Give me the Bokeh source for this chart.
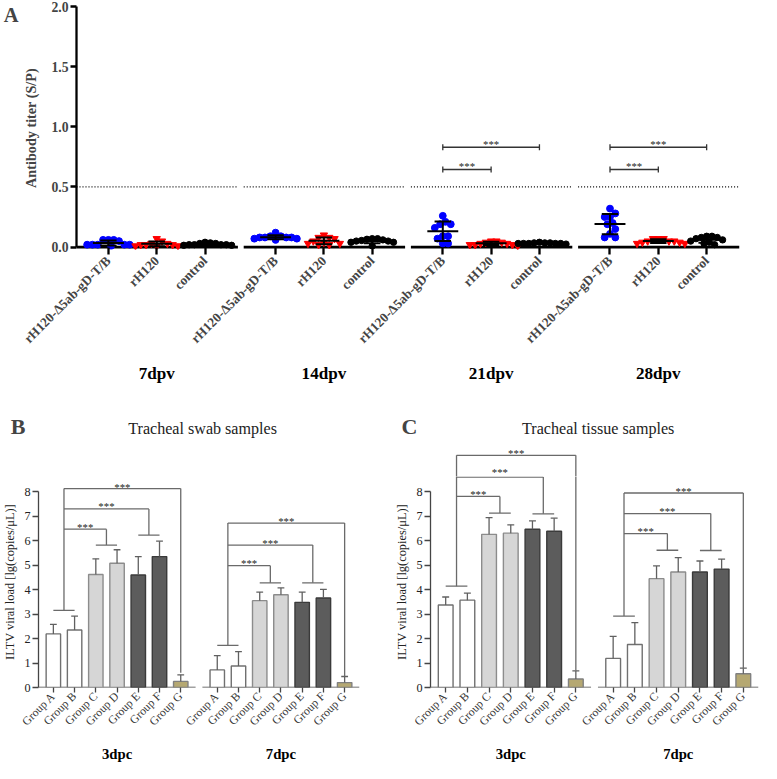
import math
import numpy as np
from bokeh.plotting import figure
from bokeh.models import FixedTicker, LinearAxis, Range1d, PrintfTickFormatter
from bokeh.layouts import column, row
from bokeh.embed import file_html
from bokeh.resources import INLINE
from bokeh.core.properties import value

SERIF = "Liberation Serif"
K = 760 / 777.0


def sc(v):
    return int(round(v * K))


def fs(v):
    return f"{v * K:.1f}px"


# ---------------- Panel A data ----------------
timepoints_A = ["7dpv", "14dpv", "21dpv", "28dpv"]
groups_A = ["rH120-Δ5ab-gD-T/B", "rH120", "control"]
titer_vaccine = [
    [0.06, 0.06, 0.06, 0.05, 0.02, 0.02, 0.02, 0.02, 0.01, 0.02],
    [0.12, 0.09, 0.09, 0.08, 0.08, 0.08, 0.08, 0.07, 0.07, 0.06],
    [0.26, 0.19, 0.19, 0.21, 0.16, 0.09, 0.09, 0.07, 0.03, 0.03],
    [0.32, 0.28, 0.25, 0.25, 0.20, 0.15, 0.11, 0.08, 0.08, 0.19],
]
titer_rh120 = [
    [0.07, 0.05, 0.03, 0.02, 0.02, 0.01, 0.01, 0.01, 0.02, 0.03],
    [0.10, 0.08, 0.08, 0.07, 0.05, 0.04, 0.03, 0.02, 0.02, 0.03],
    [0.05, 0.05, 0.04, 0.04, 0.03, 0.03, 0.02, 0.02, 0.01, 0.02],
    [0.07, 0.07, 0.07, 0.05, 0.05, 0.05, 0.04, 0.04, 0.03, 0.03],
]
titer_control = [
    [0.04, 0.035, 0.03, 0.03, 0.02, 0.02, 0.02, 0.015, 0.015, 0.02],
    [0.07, 0.07, 0.065, 0.06, 0.055, 0.05, 0.05, 0.04, 0.04, 0.01],
    [0.04, 0.035, 0.035, 0.035, 0.03, 0.03, 0.03, 0.03, 0.025, 0.03],
    [0.09, 0.09, 0.08, 0.08, 0.07, 0.06, 0.05, 0.04, 0.03, 0.02],
]
cutoff_A = 0.5
# (timepoint index, compared group index, bracket height)
sig_A = [(2, 1, 0.645), (2, 2, 0.83), (3, 1, 0.645), (3, 2, 0.83)]
colors_A = ["#0000ff", "#ff0000", "#000000"]
markers_A = ["circle", "inverted_triangle", "circle"]
sizes_A = [7, 7.5, 6.5]

# ---------------- Panels B / C data ----------------
groups_BC = ["Group A", "Group B", "Group C", "Group D", "Group E", "Group F", "Group G"]
days_BC = ["3dpc", "7dpc"]
swab_mean = [[2.19, 2.35, 4.62, 5.08, 4.60, 5.35, 0.25],
             [0.72, 0.88, 3.55, 3.79, 3.48, 3.66, 0.20]]
swab_sd = [[0.39, 0.57, 0.64, 0.55, 0.75, 0.63, 0.27],
           [0.58, 0.59, 0.35, 0.28, 0.42, 0.35, 0.25]]
tissue_mean = [[3.37, 3.57, 6.26, 6.31, 6.47, 6.39, 0.35],
               [1.19, 1.76, 4.45, 4.72, 4.72, 4.84, 0.56]]
tissue_sd = [[0.33, 0.29, 0.68, 0.34, 0.34, 0.53, 0.33],
             [0.90, 0.89, 0.52, 0.59, 0.45, 0.41, 0.23]]
# [pair A-B, level 1, pair C-D, level 2, pair E-F, level 3, end at G]
swab_brackets = [[3.15, 6.47, 5.82, 7.30, 6.23, 8.13, 0.60],
                 [1.72, 4.98, 4.28, 5.82, 4.28, 6.72, 0.46]]
tissue_brackets = [[4.14, 7.81, 7.13, 8.60, 7.10, 9.48, 0.70],
                   [2.92, 6.29, 5.61, 7.11, 5.60, 7.95, 0.80]]
bar_fill = ["#ffffff", "#ffffff", "#d6d6d6", "#d6d6d6", "#5c5c5c", "#5c5c5c", "#b5a872"]
bar_line = ["#707070", "#707070", "#8c8c8c", "#8c8c8c", "#3a3a3a", "#3a3a3a", "#808080"]


def swarm_offsets(vals, ypx, ax, ay):
    vals = np.asarray(vals, float)
    order = np.argsort(-vals, kind="stable")
    placed = []
    offs = np.zeros(len(vals))
    step = ax * 0.5
    for k in order:
        y = vals[k] * ypx
        n = 0
        ok = None
        while ok is None:
            cands = [0.0] if n == 0 else [n * step, -n * step]
            for c in cands:
                if all(((c - px) / ax) ** 2 + ((y - py) / ay) ** 2 >= 1.0 for px, py in placed):
                    ok = c
                    break
            n += 1
        offs[k] = ok
        placed.append((ok, y))
    return offs


def base_fig(**kw):
    p = figure(output_backend="svg", toolbar_location=None, **kw)
    p.xgrid.visible = False
    p.ygrid.visible = False
    p.outline_line_color = None
    return p


def bare_fig(width, height, x_range, y_range):
    p = figure(output_backend="svg", toolbar_location=None, width=width, height=height,
               x_range=x_range, y_range=y_range, x_axis_location=None, y_axis_location=None,
               min_border=0, min_border_left=0, min_border_right=0, min_border_top=0,
               min_border_bottom=0)
    p.xgrid.visible = False
    p.ygrid.visible = False
    p.outline_line_color = None
    return p


def label_axis(tick, text, size, standoff):
    return LinearAxis(ticker=FixedTicker(ticks=[tick]), major_label_overrides={tick: text},
                      axis_line_color=None, major_tick_line_color=None, minor_tick_line_color=None,
                      major_tick_out=0, major_tick_in=0, minor_tick_out=0, minor_tick_in=0,
                      major_label_text_font=SERIF, major_label_text_font_style="bold",
                      major_label_text_font_size=fs(size), major_label_standoff=standoff)


# ---------------- sizes (px) ----------------
V_SPLIT = 8.625                      # value at the seam between header and main plot (B, C)
SPLIT_REF = 705.7 - V_SPLIT * 25.45  # its reference pixel row
FOOT_TOP_REF = 751.7                 # top of the day-label strip under panels B and C
W_A = sc(777)
H_TOTAL = sc(779)
H_A_MAIN = sc(364)
H_A_FOOT = sc(394) - H_A_MAIN
H_BC = H_TOTAL - sc(394)
H_BC_HEAD = sc(SPLIT_REF) - sc(394)
H_BC_MAIN = sc(FOOT_TOP_REF) - sc(SPLIT_REF)
H_BC_FOOT = H_BC - H_BC_HEAD - H_BC_MAIN
BC_FRAME_H = sc(705.7) - sc(SPLIT_REF)
PXU = BC_FRAME_H / V_SPLIT

# ================= Panel A =================
GSTEP_A, ISTEP_A, PAD_A = 173, 50, 33
AX0, AX1 = -PAD_A, 3 * GSTEP_A + 2 * ISTEP_A + PAD_A + 1
A_Y0 = -0.02
A_BL, A_BR = sc(71), sc(21)
A_FT = sc(6)
A_FB = sc(254.5)
pA = base_fig(width=W_A, height=H_A_MAIN, x_range=Range1d(AX0, AX1), y_range=Range1d(A_Y0, 2.0),
              min_border=0, min_border_left=A_BL, min_border_right=A_BR,
              min_border_top=A_FT, min_border_bottom=H_A_MAIN - A_FB)

tick_pos, tick_lab = [], {}
for g, tp in enumerate(timepoints_A):
    x0 = g * GSTEP_A
    pA.segment(x0=[x0 - PAD_A], y0=[0], x1=[x0 + 2 * ISTEP_A + PAD_A + 1], y1=[0],
               line_color="black", line_width=2.6)
    pA.segment(x0=[x0 - PAD_A], y0=[cutoff_A], x1=[x0 + 2 * ISTEP_A + PAD_A + 1], y1=[cutoff_A],
               line_color="black", line_width=1.3, line_dash="1 2")
    for i, (series, col, mk, sz) in enumerate(zip([titer_vaccine, titer_rh120, titer_control],
                                                  colors_A, markers_A, sizes_A)):
        xc = x0 + i * ISTEP_A
        tick_pos.append(xc)
        tick_lab[xc] = groups_A[i]
        vals = np.array(series[g])
        offs = swarm_offsets(vals, 123.0, 5.5, 6.5)
        pA.scatter(x=list(xc + offs), y=list(vals), marker=mk, size=sz * K,
                   fill_color=col, line_color=col)
        m = vals.mean()
        sd = vals.std(ddof=1)
        pA.segment(x0=[xc - 16, xc - 8.5, xc - 8.5, xc], y0=[m, m - sd, m + sd, m - sd],
                   x1=[xc + 16, xc + 8.5, xc + 8.5, xc], y1=[m, m - sd, m + sd, m + sd],
                   line_color="black", line_width=2)

for g, gi, h in sig_A:
    xa = g * GSTEP_A
    xb = g * GSTEP_A + gi * ISTEP_A
    pA.segment(x0=[xa, xa, xb], y0=[h, h - 0.025, h - 0.025], x1=[xb, xa, xb], y1=[h, h + 0.025, h + 0.025],
               line_color="#333333", line_width=1.3)
    pA.text(x=[(xa + xb) / 2], y=[h + 0.025], text=["***"], text_align="center",
            text_baseline="alphabetic", text_font=value(SERIF), text_font_size=fs(11),
            text_color="#222222")

yA = pA.yaxis[0]
yA.ticker = FixedTicker(ticks=[0, 0.5, 1.0, 1.5, 2.0])
yA.formatter = PrintfTickFormatter(format="%.1f")
yA.bounds = (0, 2)
yA.axis_line_width = 2.3
yA.major_tick_line_width = 2.3
yA.major_tick_out = sc(6)
yA.major_tick_in = 0
yA.minor_tick_line_color = None
yA.major_label_text_font = SERIF
yA.major_label_text_font_style = "bold"
yA.major_label_text_font_size = fs(14)
yA.major_label_standoff = sc(2)
yA.axis_label = "Antibody titer (S/P)"
yA.axis_label_text_font = SERIF
yA.axis_label_text_font_style = "bold"
yA.axis_label_text_font_size = fs(14.5)
yA.axis_label_standoff = sc(9)

# panel letter "A" carried by a label-only axis at the far left
pA.add_layout(label_axis(1.93, "A", 21, sc(2)), "left")

xA = pA.xaxis[0]
xA.ticker = FixedTicker(ticks=tick_pos)
xA.major_label_overrides = tick_lab
xA.major_label_orientation = math.pi / 4
xA.axis_line_color = None
xA.major_tick_line_width = 2.3
xA.major_tick_in = sc(2.5)
xA.major_tick_out = sc(5)
xA.minor_tick_line_color = None
xA.major_label_text_font = SERIF
xA.major_label_text_font_style = "bold"
xA.major_label_text_font_size = fs(13.6)
xA.major_label_standoff = sc(4)

# footer with the time-point labels (its frame is aligned with panel A's frame)
pAf = bare_fig(W_A, H_A_FOOT, Range1d(AX0, AX1), Range1d(394, 364))
centers_A = [g * GSTEP_A + ISTEP_A for g in range(len(timepoints_A))]
pAf.text(x=centers_A, y=[382] * len(centers_A), text=timepoints_A, text_align="center",
         text_baseline="alphabetic", text_font=value(SERIF), text_font_style="bold",
         text_font_size=fs(17.5), text_color="black")


# ================= Panels B / C =================
GSTEP_BC, ISTEP_BC, PAD_BC = 772, 100, 70
BX0, BX1 = -PAD_BC, GSTEP_BC + 6 * ISTEP_BC + PAD_BC
STAR_PX = 11 * K
STAR_ASC = 0.95 * STAR_PX / PXU
STAR_DESC = 0.36 * STAR_PX / PXU


def draw_brackets(p, brackets, part):
    sx, sy = [], []
    for g in range(len(days_BC)):
        xs = [g * GSTEP_BC + i * ISTEP_BC for i in range(len(groups_BC))]
        pAB, L1, pCD, L2, pEF, L3, gEnd = brackets[g]
        mAB = (xs[0] + xs[1]) / 2
        mCD = (xs[2] + xs[3]) / 2
        mEF = (xs[4] + xs[5]) / 2
        segs = [
            (xs[0], pAB, xs[1], pAB), (xs[2], pCD, xs[3], pCD), (xs[4], pEF, xs[5], pEF),
            (mAB, pAB, mAB, L3),
            (mAB, L1, mCD, L1), (mCD, L1, mCD, pCD),
            (mAB, L2, mEF, L2), (mEF, L2, mEF, pEF),
            (mAB, L3, xs[6], L3), (xs[6], L3, xs[6], gEnd),
        ]
        p.segment(x0=[s[0] for s in segs], y0=[s[1] for s in segs],
                  x1=[s[2] for s in segs], y1=[s[3] for s in segs],
                  line_color="#6a6a6a", line_width=1.3)
        for xm, lv in [((mAB + mCD) / 2, L1), ((mAB + mEF) / 2, L2), ((mAB + xs[6]) / 2, L3)]:
            b = lv + 0.1
            # keep every star label wholly on one side of the header / plot seam
            if b - STAR_DESC < V_SPLIT < b + STAR_ASC:
                if V_SPLIT - b > b - V_SPLIT + 0.15:
                    b = V_SPLIT - STAR_ASC - 0.01
                else:
                    b = V_SPLIT + STAR_DESC + 0.01
            in_head = b - STAR_DESC >= V_SPLIT
            if in_head == (part == "head"):
                sx.append(xm)
                sy.append(b)
    if sx:
        p.text(x=sx, y=sy, text=["***"] * len(sx), text_align="center", text_baseline="alphabetic",
               text_font=value(SERIF), text_font_size=fs(11), text_color="#222222")


def bar_panel(title, letter, means, sds, brackets, width, bl, br):
    # header: panel letter, title and the upper part of the brackets
    ph = bare_fig(width, H_BC_HEAD, Range1d(BX0, BX1), Range1d(V_SPLIT, V_SPLIT + H_BC_HEAD / PXU))
    ph.add_layout(label_axis((705.7 - 434.5) / 25.45, letter, 22.5, sc(13)), "left")
    ph.text(x=[703], y=[10.56], text=[title], text_align="center", text_baseline="alphabetic",
            text_font=value(SERIF), text_font_size=fs(16.5), text_color="#222222")
    draw_brackets(ph, brackets, "head")

    # main plot
    p = base_fig(width=width, height=H_BC_MAIN, x_range=Range1d(BX0, BX1),
                 y_range=Range1d(0, V_SPLIT), min_border=0,
                 min_border_left=bl, min_border_right=br,
                 min_border_top=0, min_border_bottom=H_BC_MAIN - BC_FRAME_H)
    ticks, labs, centers = [], {}, []
    for g, day in enumerate(days_BC):
        xs = [g * GSTEP_BC + i * ISTEP_BC for i in range(len(groups_BC))]
        centers.append(xs[3])
        for x, name in zip(xs, groups_BC):
            ticks.append(x)
            labs[x] = name
        p.segment(x0=[xs[0] - PAD_BC], y0=[0], x1=[xs[-1] + PAD_BC], y1=[0],
                  line_color="#454545", line_width=1.4)
        mean = means[g]
        sd = sds[g]
        p.vbar(x=xs, top=mean, bottom=0, width=68, fill_color=bar_fill, line_color=bar_line,
               line_width=1.4)
        top = [m + s for m, s in zip(mean, sd)]
        p.segment(x0=xs, y0=mean, x1=xs, y1=top, line_color="#606060", line_width=1.3)
        p.segment(x0=[x - 16 for x in xs], y0=top, x1=[x + 16 for x in xs], y1=top,
                  line_color="#606060", line_width=1.3)
    draw_brackets(p, brackets, "main")

    ya = p.yaxis[0]
    ya.ticker = FixedTicker(ticks=list(range(0, 9)))
    ya.bounds = (0, 8)
    ya.axis_line_color = "#454545"
    ya.axis_line_width = 1.3
    ya.major_tick_line_color = "#454545"
    ya.major_tick_line_width = 1.3
    ya.major_tick_out = sc(6)
    ya.major_tick_in = 0
    ya.minor_tick_line_color = None
    ya.major_label_text_font = SERIF
    ya.major_label_text_font_size = fs(12.5)
    ya.major_label_text_color = "#222222"
    ya.major_label_standoff = sc(2)
    ya.axis_label = "ILTV viral load [lg(copies/μL)]"
    ya.axis_label_text_font = SERIF
    ya.axis_label_text_font_style = "normal"
    ya.axis_label_text_font_size = fs(12.7)
    ya.axis_label_text_color = "#222222"
    ya.axis_label_standoff = sc(4)

    xa = p.xaxis[0]
    xa.ticker = FixedTicker(ticks=ticks)
    xa.major_label_overrides = labs
    xa.major_label_orientation = math.pi / 4
    xa.axis_line_color = None
    xa.major_tick_line_color = "#454545"
    xa.major_tick_line_width = 1.3
    xa.major_tick_in = 0
    xa.major_tick_out = sc(5)
    xa.minor_tick_line_color = None
    xa.major_label_text_font = SERIF
    xa.major_label_text_font_size = fs(12)
    xa.major_label_text_color = "#333333"
    xa.major_label_standoff = sc(2)

    # footer: day labels
    pf = bare_fig(width, H_BC_FOOT, Range1d(BX0, BX1), Range1d(779, FOOT_TOP_REF))
    pf.text(x=centers, y=[770] * len(centers), text=days_BC, text_align="center",
            text_baseline="alphabetic", text_font=value(SERIF), text_font_style="bold",
            text_font_size=fs(15), text_color="black")
    return column(ph, p, pf, spacing=0)


W_B = sc(390)
W_C = W_A - W_B
colB = bar_panel("Tracheal swab samples", "B", swab_mean, swab_sd, swab_brackets,
                 W_B, sc(36), sc(22))
colC = bar_panel("Tracheal tissue samples", "C", tissue_mean, tissue_sd, tissue_brackets,
                 W_C, sc(50), sc(2))

layout = column(column(pA, pAf, spacing=0), row(colB, colC, spacing=0), spacing=0)
open("out.html", "w").write(file_html(layout, INLINE))
